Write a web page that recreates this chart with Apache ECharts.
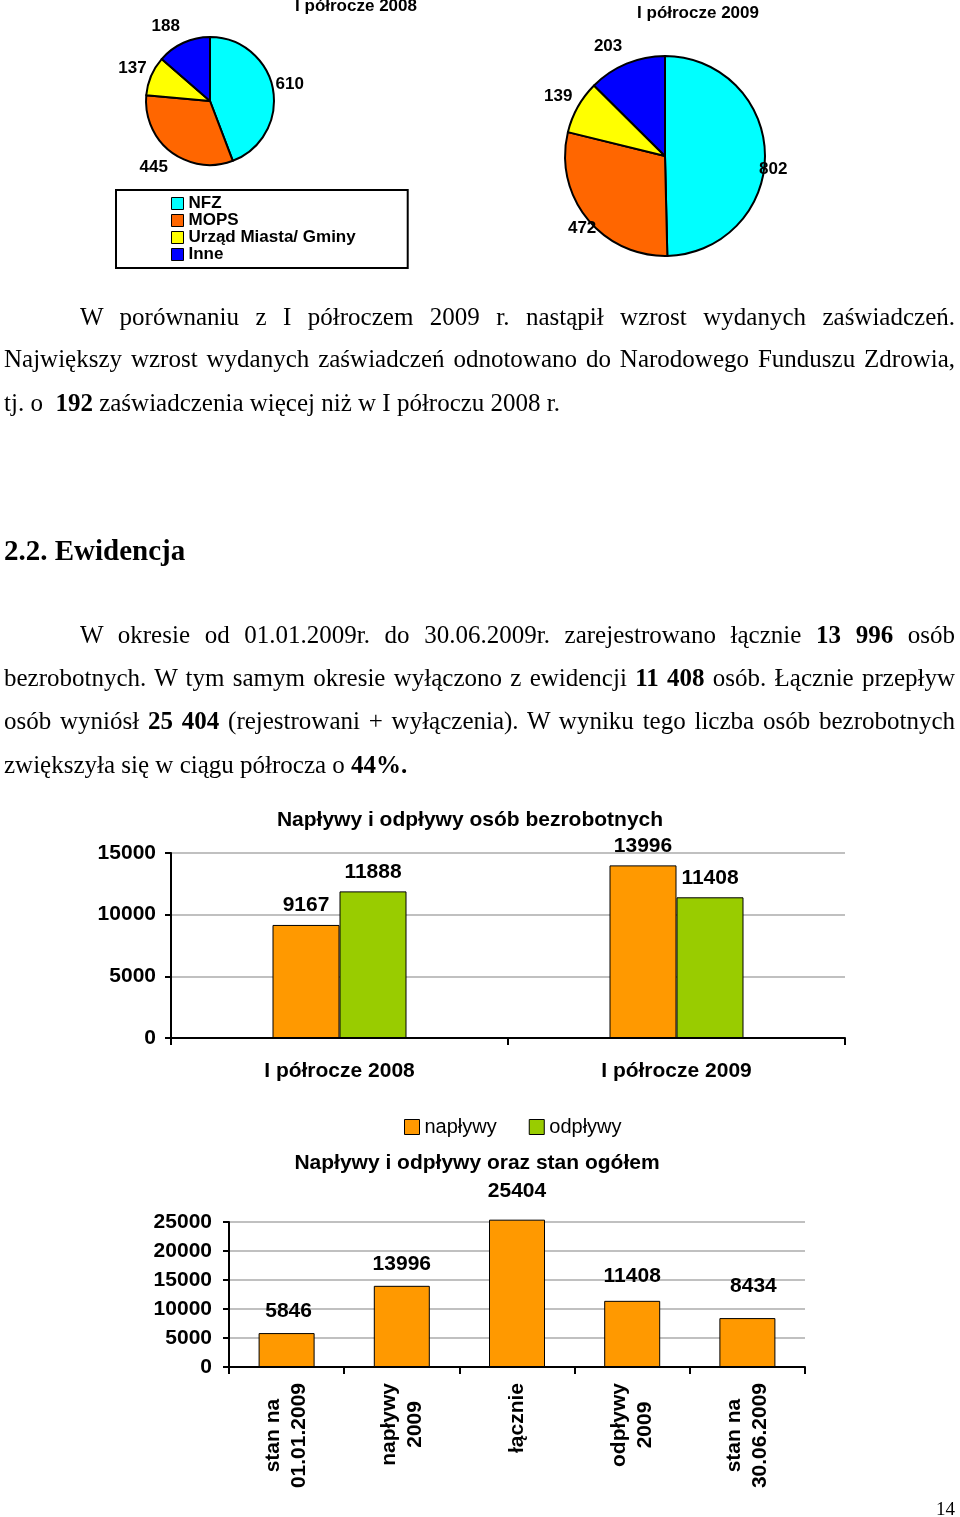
<!DOCTYPE html>
<html><head><meta charset="utf-8">
<script src="https://cdn.jsdelivr.net/npm/echarts@6/dist/echarts.min.js"></script>
<style>
html,body{margin:0;padding:0;background:#fff;}
#chart{position:absolute;left:0;top:0;width:960px;height:1517px;}
.ln{position:absolute;font-family:"Liberation Serif","Times New Roman",serif;color:#000;white-space:nowrap;}
.ln span{display:inline-block;}
</style></head>
<body>
<div id="chart"></div>
<div id="text"></div>
<script>
// ---- data ----
const pieNames = ['NFZ', 'MOPS', 'Urząd Miasta/ Gminy', 'Inne'];
const pie2008 = [610, 445, 137, 188];
const pie2009 = [802, 472, 139, 203];
const flowCats = ['I półrocze 2008', 'I półrocze 2009'];
const inflows = [9167, 13996];
const outflows = [11888, 11408];
const totalCats = ['stan na\n01.01.2009', 'napływy\n2009', 'łącznie', 'odpływy\n2009', 'stan na\n30.06.2009'];
const totals = [5846, 13996, 25404, 11408, 8434];

// ---- styles ----
const F = '"Liberation Sans", Arial, sans-serif';
const pieColors = ['#00FFFF', '#FF6600', '#FFFF00', '#0000FF'];
const pie1LabelLen = [[28, -30], [19, -13], [20, -19], [18, -9]];
const pie2LabelLen = [[-11, 0], [15, -26], [21, -18], [19, -8]];
const pie2LabelShift = [[0, 14], [0, 0], [0, 0], [0, 0]];
const totalsLabelDist = [11, 11, 18, 14, 21];
const totalsLabelDx = [2, 0, 0, 0, 6];

function pieData(vals, lens, shifts) {
  return pieNames.map((n, i) => {
    const item = {
      name: n, value: vals[i],
      itemStyle: { color: pieColors[i] },
      labelLine: { show: false, length: lens[i][0], length2: lens[i][1] }
    };
    if (shifts && (shifts[i][0] || shifts[i][1])) item.label = { offset: shifts[i] };
    return item;
  });
}
const pieLabel = { show: true, position: 'outside', formatter: '{c}', fontFamily: F, fontSize: 17, fontWeight: 'bold', color: '#000' };
const barLabel = { show: true, position: 'top', distance: 9, fontFamily: F, fontSize: 21, fontWeight: 'bold', color: '#000' };
const axisTxt = { fontFamily: F, fontSize: 21, fontWeight: 'bold', color: '#000' };
const blackLine = { color: '#000', width: 2 };
const grid = { lineStyle: { color: '#c0c0c0', width: 2 } };
const plain = v => String(v);

const chart = echarts.init(document.getElementById('chart'), null, { renderer: 'canvas' });
chart.setOption({
  animation: false,
  backgroundColor: '#fff',
  title: [
    { text: 'I półrocze 2008', left: 356, top: -2, padding: 0, textAlign: 'center', textStyle: { fontFamily: F, fontSize: 17, fontWeight: 'bold', color: '#000' } },
    { text: 'I półrocze 2009', left: 698, top: 5, padding: 0, textAlign: 'center', textStyle: { fontFamily: F, fontSize: 17, fontWeight: 'bold', color: '#000' } },
    { text: 'Napływy i odpływy osób bezrobotnych', left: 470, top: 810, padding: 0, textAlign: 'center', textStyle: { fontFamily: F, fontSize: 21, fontWeight: 'bold', color: '#000' } },
    { text: 'Napływy i odpływy oraz stan ogółem', left: 477, top: 1153, padding: 0, textAlign: 'center', textStyle: { fontFamily: F, fontSize: 21, fontWeight: 'bold', color: '#000' } }
  ],
  legend: [
    {
      data: pieNames, orient: 'vertical', left: 116, top: 190, selectedMode: false,
      borderColor: '#000', borderWidth: 2, padding: [5, 52, 5, 55],
      itemWidth: 12, itemHeight: 12, itemGap: 0, icon: 'rect',
      itemStyle: { borderColor: '#000', borderWidth: 1 },
      textStyle: { fontFamily: F, fontSize: 17, fontWeight: 'bold', color: '#000', lineHeight: 17 }
    },
    {
      data: ['napływy', 'odpływy'], orient: 'horizontal', left: 404, top: 1117, selectedMode: false,
      padding: 0, itemWidth: 15, itemHeight: 15, itemGap: 32, icon: 'rect',
      itemStyle: { borderColor: '#000', borderWidth: 1 },
      textStyle: { fontFamily: F, fontSize: 20, color: '#000' }
    }
  ],
  grid: [
    { left: 171, top: 853, width: 674, height: 185 },
    { left: 229, top: 1222, width: 576, height: 145 }
  ],
  xAxis: [
    {
      gridIndex: 0, type: 'category', data: flowCats,
      axisLine: { lineStyle: blackLine }, axisTick: { show: true, length: 7, lineStyle: blackLine },
      axisLabel: Object.assign({ margin: 23 }, axisTxt)
    },
    {
      gridIndex: 1, type: 'category', data: totalCats,
      axisLine: { lineStyle: blackLine }, axisTick: { show: true, length: 7, lineStyle: blackLine },
      axisLabel: {
        rotate: 90, margin: 16, interval: 0,
        formatter: v => v.split('\n').map(s => '{c|' + s + '}').join('\n'),
        rich: { c: Object.assign({ align: 'center', lineHeight: 26 }, axisTxt) }
      }
    }
  ],
  yAxis: [
    {
      gridIndex: 0, type: 'value', min: 0, max: 15000, interval: 5000,
      axisLine: { show: true, lineStyle: blackLine }, axisTick: { show: true, length: 6, lineStyle: blackLine },
      axisLabel: Object.assign({ margin: 15, formatter: plain }, axisTxt), splitLine: grid
    },
    {
      gridIndex: 1, type: 'value', min: 0, max: 25000, interval: 5000,
      axisLine: { show: true, lineStyle: blackLine }, axisTick: { show: true, length: 6, lineStyle: blackLine },
      axisLabel: Object.assign({ margin: 17, formatter: plain }, axisTxt), splitLine: grid
    }
  ],
  series: [
    {
      type: 'pie', name: 'I półrocze 2008', center: [210, 101], radius: 64, startAngle: 90, clockwise: true,
      avoidLabelOverlap: false, silent: true,
      itemStyle: { borderColor: '#000', borderWidth: 2 },
      label: pieLabel, labelLine: { show: false },
      data: pieData(pie2008, pie1LabelLen)
    },
    {
      type: 'pie', name: 'I półrocze 2009', center: [665, 156], radius: 100, startAngle: 90, clockwise: true,
      avoidLabelOverlap: false, silent: true,
      itemStyle: { borderColor: '#000', borderWidth: 2 },
      label: pieLabel, labelLine: { show: false },
      data: pieData(pie2009, pie2LabelLen, pie2LabelShift)
    },
    {
      type: 'bar', name: 'napływy', xAxisIndex: 0, yAxisIndex: 0, data: inflows,
      barWidth: 67, barGap: '0%', silent: true,
      itemStyle: { color: '#FF9900', borderColor: '#000', borderWidth: 1 },
      label: barLabel
    },
    {
      type: 'bar', name: 'odpływy', xAxisIndex: 0, yAxisIndex: 0, data: outflows,
      barWidth: 67, barGap: '0%', silent: true,
      itemStyle: { color: '#99CC00', borderColor: '#000', borderWidth: 1 },
      label: barLabel
    },
    {
      type: 'bar', name: 'stan', xAxisIndex: 1, yAxisIndex: 1, clip: false, silent: true,
      barWidth: 56,
      itemStyle: { color: '#FF9900', borderColor: '#000', borderWidth: 1 },
      label: barLabel,
      data: totals.map((v, i) => ({ value: v, label: { distance: totalsLabelDist[i], offset: [totalsLabelDx[i], 0] } }))
    }
  ]
});

// ---- page text ----
const textLines = [
  { x: 80, w: 875, base: 325, html: 'W porównaniu z I półroczem 2009 r. nastąpił wzrost wydanych zaświadczeń.' },
  { x: 4, w: 951, base: 367, html: 'Największy wzrost wydanych zaświadczeń odnotowano do Narodowego Funduszu Zdrowia,' },
  { x: 4, base: 411, html: 'tj. o &nbsp;<b>192</b> zaświadczenia więcej niż w I półroczu 2008 r.' },
  { x: 4, base: 560, size: 29, html: '<b>2.2. Ewidencja</b>' },
  { x: 80, w: 875, base: 643, html: 'W okresie od 01.01.2009r. do 30.06.2009r. zarejestrowano łącznie <b>13 996</b> osób' },
  { x: 4, w: 951, base: 686, html: 'bezrobotnych. W tym samym okresie wyłączono z ewidencji <b>11 408</b> osób. Łącznie przepływ' },
  { x: 4, w: 951, base: 729, html: 'osób wyniósł <b>25 404</b> (rejestrowani + wyłączenia). W wyniku tego liczba osób bezrobotnych' },
  { x: 4, base: 773, html: 'zwiększyła się w ciągu półrocza o <b>44%.</b>' },
  { x: 936, base: 1515, size: 19, html: '14' }
];
const host = document.getElementById('text');
textLines.forEach(l => {
  const fs = l.size || 25;
  const d = document.createElement('div');
  d.className = 'ln';
  d.style.fontSize = fs + 'px';
  d.style.lineHeight = fs + 'px';
  d.style.left = l.x + 'px';
  d.style.top = (l.base - fs * 0.8375) + 'px';
  const s = document.createElement('span');
  s.innerHTML = l.html;
  d.appendChild(s);
  host.appendChild(d);
  if (l.w) {
    const nat = s.getBoundingClientRect().width;
    const n = (s.textContent.match(/ /g) || []).length;
    if (n) s.style.wordSpacing = ((l.w - nat) / n) + 'px';
  }
});
</script>
</body></html>
